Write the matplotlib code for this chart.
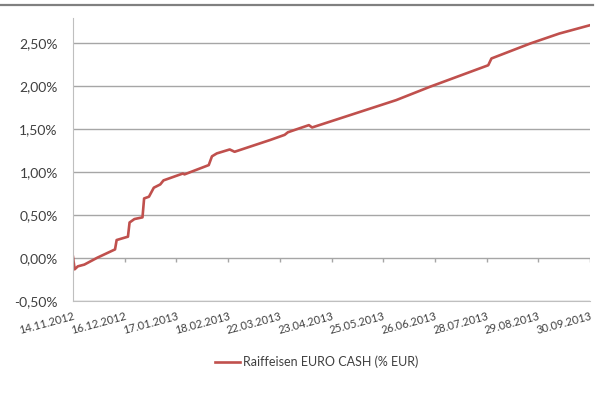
import matplotlib
matplotlib.use("Agg")
from matplotlib import pyplot as plt
from matplotlib.lines import Line2D
import matplotlib.ticker as mticker
import pandas as pd

plt.rcParams["font.family"] = ["Lato", "DejaVu Sans"]

dates = ["2012-11-14", "2012-11-15", "2012-11-17", "2012-11-21", "2012-11-29",
         "2012-12-10", "2012-12-11", "2012-12-18", "2012-12-19", "2012-12-22",
         "2012-12-27", "2012-12-28", "2012-12-31", "2013-01-03", "2013-01-07",
         "2013-01-09", "2013-01-21", "2013-01-22", "2013-02-06", "2013-02-08",
         "2013-02-11", "2013-02-19", "2013-02-22", "2013-03-16", "2013-03-25",
         "2013-03-27", "2013-04-03", "2013-04-09", "2013-04-11", "2013-06-02",
         "2013-06-23", "2013-07-29", "2013-07-31", "2013-08-24", "2013-09-11",
         "2013-09-30"]
perf = [0.01, -0.135, -0.10, -0.08, 0.00,
        0.097, 0.206, 0.245, 0.41, 0.45,
        0.47, 0.69, 0.71, 0.815, 0.853,
        0.90, 0.98, 0.97, 1.078, 1.18,
        1.214, 1.26, 1.233, 1.37, 1.43,
        1.46, 1.505, 1.543, 1.516, 1.834,
        1.99, 2.24, 2.319, 2.493, 2.609,
        2.706]
tick_dates = ["14.11.2012", "16.12.2012", "17.01.2013", "18.02.2013", "22.03.2013",
              "23.04.2013", "25.05.2013", "26.06.2013", "28.07.2013", "29.08.2013",
              "30.09.2013"]
y_ticks = [-0.5, 0.0, 0.5, 1.0, 1.5, 2.0, 2.5]

x = pd.to_datetime(dates)
xt = pd.to_datetime(tick_dates, format="%d.%m.%Y")

fig = plt.figure(figsize=(6.01, 4.07), dpi=100)
ax = fig.add_axes([0.1215, 0.2612, 0.8602, 0.6946])

ax.plot(x, perf, color="#C0504D", lw=1.9, label="Raiffeisen EURO CASH (% EUR)")

ax.set_xlim(xt[0], xt[-1])
ax.set_ylim(-0.5, 2.79)
ax.set_yticks(y_ticks)
ax.yaxis.set_major_formatter(mticker.FuncFormatter(lambda v, p: f"{v:.2f}%".replace(".", ",")))
ax.set_xticks(xt)
ax.set_xticklabels(tick_dates, rotation=15, ha="right", va="top", rotation_mode="anchor")
ax.tick_params(axis="x", length=0, pad=7, labelsize=8, labelcolor="#404040")
ax.tick_params(axis="y", length=0, pad=11, labelsize=10, labelcolor="#404040")

ax.grid(axis="y", color="#a6a6a6", lw=1)
ax.set_axisbelow(True)
for s in ["top", "right"]:
    ax.spines[s].set_visible(False)
ax.spines["left"].set_color("#bfbfbf")
ax.spines["bottom"].set_color("#bfbfbf")

# small tick marks on the zero line
ax.vlines(xt, -0.05, 0, color="#a6a6a6", lw=1)

fig.add_artist(Line2D([0, 0.987], [0.988, 0.988], transform=fig.transFigure,
                      color="#808080", lw=1.6))

fig.legend(loc="center", bbox_to_anchor=(0.527, 0.111), frameon=False,
           fontsize=9, handlelength=2.0, handletextpad=0.3, labelcolor="#404040")

fig.savefig("out.png", dpi=100)
